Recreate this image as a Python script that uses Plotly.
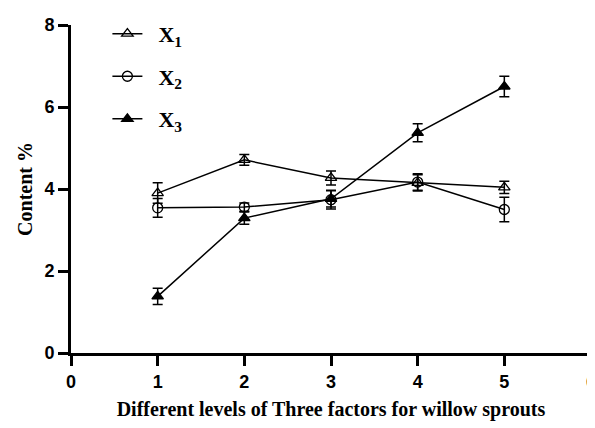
import plotly.graph_objects as go

levels = [1, 2, 3, 4, 5]
x1_vals = [3.90, 4.71, 4.27, 4.15, 4.04]
x1_err = [0.25, 0.13, 0.17, 0.20, 0.15]
x2_vals = [3.54, 3.56, 3.74, 4.17, 3.50]
x2_err = [0.23, 0.10, 0.23, 0.20, 0.30]
x3_vals = [1.38, 3.29, 3.76, 5.37, 6.50]
x3_err = [0.20, 0.15, 0.20, 0.22, 0.25]
names = ["  <b>X<sub>1</sub></b>", "  <b>X<sub>2</sub></b>", "  <b>X<sub>3</sub></b>"]
symbols = ["triangle-up-open", "circle-open", "triangle-up"]

fig = go.Figure()
for i, (vals, err) in enumerate([(x1_vals, x1_err), (x2_vals, x2_err), (x3_vals, x3_err)]):
    fig.add_trace(go.Scatter(
        x=levels, y=vals, name=names[i], mode="lines+markers",
        line=dict(color="black", width=1.5),
        marker=dict(symbol=symbols[i], size=10, color="black", line=dict(color="black", width=1.3)),
        error_y=dict(type="data", array=err, visible=True, color="black", thickness=1.5, width=5),
        legendgroup=f"g{i}", cliponaxis=False,
    ))

axis_common = dict(showline=True, linecolor="black", linewidth=3, ticks="outside", ticklen=10,
                   tickwidth=3, tickcolor="black", showgrid=False, zeroline=False, automargin=False,
                   ticklabeloverflow="allow",
                   tickfont=dict(family="Liberation Sans", size=18, color="black", weight="bold"))

fig.update_layout(
    width=587, height=420,
    margin=dict(l=63, r=4, t=17, b=75),
    plot_bgcolor="white", paper_bgcolor="white",
    xaxis=dict(range=[0, 6], dtick=1, tick0=0,
               title=dict(text="Different levels of Three factors for willow sprouts",
                          font=dict(family="Liberation Serif", size=20, color="black", weight="bold"),
                          standoff=12),
               **axis_common),
    yaxis=dict(range=[0, 8], dtick=2, tick0=0,
               title=dict(text="Content %",
                          font=dict(family="Liberation Serif", size=20, color="black", weight="bold"),
                          standoff=7),
               **axis_common),
    legend=dict(x=0.07, y=1.037, xanchor="left", yanchor="top", bgcolor="rgba(0,0,0,0)",
                font=dict(family="Liberation Serif", size=22, color="black"),
                tracegroupgap=11),
)

fig.write_html("out.html")
